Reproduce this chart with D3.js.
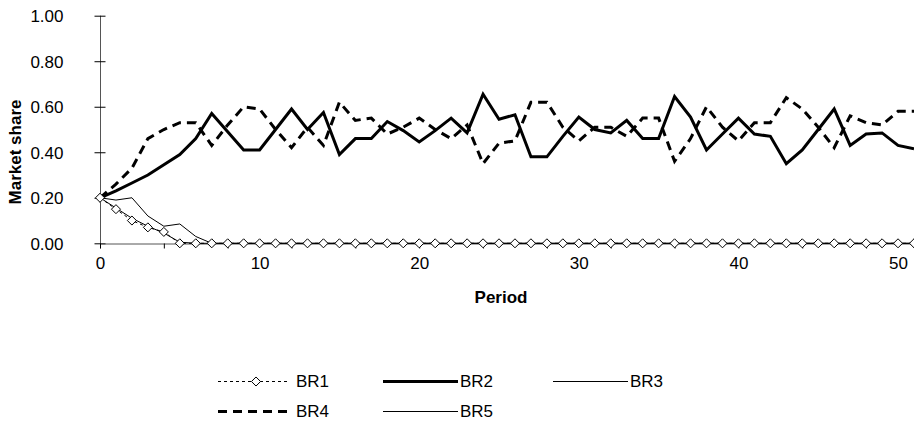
<!DOCTYPE html>
<html>
<head>
<meta charset="utf-8">
<script src="https://cdn.jsdelivr.net/npm/d3@7"></script>
<style>
  html, body { margin: 0; padding: 0; background: #fff; }
  svg { display: block; }
  text { font-family: "Liberation Sans", Arial, sans-serif; fill: #000; }
</style>
</head>
<body>
<svg id="chart" width="914" height="434"></svg>
<script>
// Periods on the horizontal axis
const periods = [0,1,2,3,4,5,6,7,8,9,10,11,12,13,14,15,16,17,18,19,20,21,22,23,24,25,
  26,27,28,29,30,31,32,33,34,35,36,37,38,39,40,41,42,43,44,45,46,47,48,49,50,51];

// Market share per rule, one value per period
const br1 = [0.20,0.15,0.10,0.07,0.05,0.00,0.00,0.00,0.00,0.00,0.00,0.00,0.00,0.00,0.00,0.00,0.00,0.00,
  0.00,0.00,0.00,0.00,0.00,0.00,0.00,0.00,0.00,0.00,0.00,0.00,0.00,0.00,0.00,0.00,0.00,0.00,
  0.00,0.00,0.00,0.00,0.00,0.00,0.00,0.00,0.00,0.00,0.00,0.00,0.00,0.00,0.00,0.00];
const br2 = [0.20,0.23,0.265,0.30,0.345,0.39,0.46,0.57,0.49,0.41,0.41,0.50,0.59,0.50,0.575,0.39,0.46,0.46,
  0.535,0.495,0.445,0.495,0.55,0.485,0.655,0.545,0.565,0.38,0.38,0.47,0.555,0.50,0.485,0.54,0.46,0.46,
  0.645,0.555,0.41,0.48,0.55,0.48,0.47,0.35,0.41,0.50,0.59,0.43,0.48,0.485,0.43,0.415];
const br3 = [0.20,0.19,0.20,0.12,0.075,0.085,0.03,0.00,0.00,0.00,0.00,0.00,0.00,0.00,0.00,0.00,0.00,0.00,
  0.00,0.00,0.00,0.00,0.00,0.00,0.00,0.00,0.00,0.00,0.00,0.00,0.00,0.00,0.00,0.00,0.00,0.00,
  0.00,0.00,0.00,0.00,0.00,0.00,0.00,0.00,0.00,0.00,0.00,0.00,0.00,0.00,0.00,0.00];
const br4 = [0.20,0.26,0.33,0.46,0.50,0.53,0.53,0.43,0.52,0.60,0.59,0.50,0.42,0.51,0.43,0.62,0.54,0.55,
  0.48,0.51,0.55,0.50,0.46,0.52,0.35,0.44,0.45,0.62,0.62,0.51,0.45,0.51,0.51,0.47,0.55,0.55,
  0.36,0.46,0.60,0.51,0.45,0.53,0.53,0.64,0.59,0.51,0.42,0.56,0.53,0.52,0.58,0.58];
const br5 = [0.20,0.155,0.11,0.075,0.045,0.005,0.00,0.00,0.00,0.00,0.00,0.00,0.00,0.00,0.00,0.00,0.00,0.00,
  0.00,0.00,0.00,0.00,0.00,0.00,0.00,0.00,0.00,0.00,0.00,0.00,0.00,0.00,0.00,0.00,0.00,0.00,
  0.00,0.00,0.00,0.00,0.00,0.00,0.00,0.00,0.00,0.00,0.00,0.00,0.00,0.00,0.00,0.00];

// Axis ticks and labels
const yTicks = [0, 0.2, 0.4, 0.6, 0.8, 1.0];
const xTickMarks = [0,4,8,12,16,20,24,28,32,36,40,44,48];
const xTickLabels = [0,10,20,30,40,50];
const yTitle = "Market share";
const xTitle = "Period";

const seriesNames = ["BR1","BR2","BR3","BR4","BR5"];

const svg = d3.select("#chart");
const FONT = 17;

const x = d3.scaleLinear().domain([0, 51]).range([100, 914]);
const y = d3.scaleLinear().domain([0, 1]).range([243.3, 15.7]);

// Y axis with ticks crossing the axis line
const yAxis = svg.append("g")
  .attr("transform", "translate(100.5,0)")
  .call(d3.axisLeft(y).tickValues(yTicks).tickFormat(d3.format(".2f"))
    .tickSize(6).tickSizeOuter(0).tickPadding(31));
yAxis.select(".domain").attr("stroke", "#555").attr("d", `M0,${y(1)}V${y(0)+5}`);
yAxis.selectAll(".tick line").attr("x1", 5).attr("stroke", "#000");
yAxis.selectAll(".tick text").attr("font-size", FONT).attr("font-family", "Liberation Sans, Arial")
  .attr("dy", "0.36em");

// X axis: tick marks every four periods, labels every ten
const xAxis = svg.append("g")
  .attr("transform", "translate(0,243.5)")
  .call(d3.axisBottom(x).tickValues(xTickMarks).tickFormat("").tickSize(5).tickSizeOuter(0));
xAxis.select(".domain").attr("stroke", "#555");
xAxis.selectAll(".tick line").attr("stroke", "#000");

const xLab = svg.append("g")
  .attr("transform", "translate(0,243.5)")
  .call(d3.axisBottom(x).tickValues(xTickLabels).tickFormat(d3.format("d")).tickSize(0).tickPadding(19));
xLab.select(".domain").remove();
xLab.selectAll(".tick text").attr("font-size", FONT).attr("font-family", "Liberation Sans, Arial")
  .attr("dy", "0.36em");

// Axis titles
svg.append("text")
  .attr("transform", "translate(15,152) rotate(-90)")
  .attr("text-anchor", "middle").attr("dy", "0.36em")
  .attr("font-size", FONT).attr("font-weight", "bold")
  .text(yTitle);
svg.append("text")
  .attr("x", 501).attr("y", 297)
  .attr("text-anchor", "middle").attr("dy", "0.36em")
  .attr("font-size", FONT).attr("font-weight", "bold")
  .text(xTitle);

// Series styles
const styles = {
  BR1: { width: 1, dash: "3,3", marker: true },
  BR2: { width: 3, dash: null },
  BR3: { width: 1, dash: null },
  BR4: { width: 3, dash: "9,6" },
  BR5: { width: 1, dash: null }
};
const seriesData = { BR1: br1, BR2: br2, BR3: br3, BR4: br4, BR5: br5 };

const line = d3.line()
  .x((d, i) => x(periods[i]))
  .y(d => y(d));

const plot = svg.append("g");
const diamond = d3.symbol().type(d3.symbolDiamond2).size(52);

// Draw the thin and thick lines first, the marked series last
["BR5","BR3","BR4","BR2","BR1"].forEach(name => {
  const st = styles[name];
  plot.append("path")
    .datum(seriesData[name])
    .attr("d", line)
    .attr("fill", "none")
    .attr("stroke", "#000")
    .attr("stroke-width", st.width)
    .attr("stroke-linejoin", "miter")
    .attr("stroke-dasharray", st.dash);
  if (st.marker) {
    plot.selectAll(".mk-" + name)
      .data(seriesData[name])
      .join("path")
      .attr("class", "mk-" + name)
      .attr("transform", (d, i) => `translate(${x(periods[i])},${y(d)})`)
      .attr("d", diamond)
      .attr("fill", "#fff")
      .attr("stroke", "#000")
      .attr("stroke-width", 1);
  }
});

// Legend
const legendPos = {
  BR1: { x0: 218, x1: 288, tx: 296, y: 381 },
  BR2: { x0: 383, x1: 458, tx: 460, y: 381 },
  BR3: { x0: 553, x1: 628, tx: 630, y: 381 },
  BR4: { x0: 218, x1: 288, tx: 296, y: 411 },
  BR5: { x0: 383, x1: 458, tx: 460, y: 411 }
};
const legend = svg.append("g");
seriesNames.forEach(name => {
  const p = legendPos[name], st = styles[name];
  // odd widths sit on half pixels so thin samples stay sharp
  const ly = st.width % 2 === 1 ? p.y + 0.5 : p.y;
  legend.append("line")
    .attr("x1", p.x0).attr("x2", p.x1).attr("y1", ly).attr("y2", ly)
    .attr("stroke", "#000").attr("stroke-width", st.width)
    .attr("stroke-dasharray", st.dash);
  if (st.marker) {
    legend.append("path")
      .attr("transform", `translate(${(p.x0 + p.x1) / 2 + 3},${ly})`)
      .attr("d", diamond)
      .attr("fill", "#fff").attr("stroke", "#000");
  }
  legend.append("text")
    .attr("x", p.tx).attr("y", p.y).attr("dy", "0.36em")
    .attr("font-size", FONT)
    .text(name);
});
</script>
</body>
</html>
